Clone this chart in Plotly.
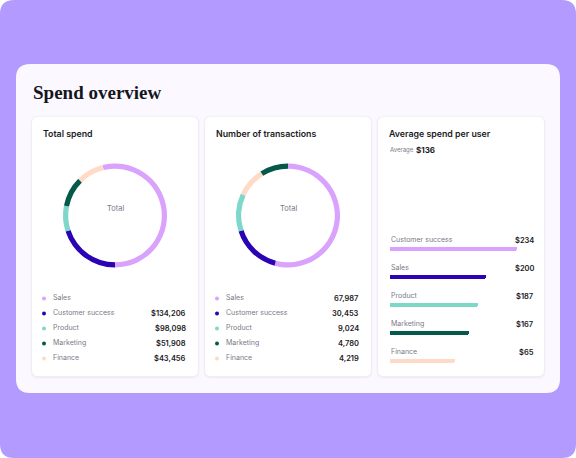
import plotly.graph_objects as go

# ---------------- data ----------------
categories = ["Sales", "Customer success", "Product", "Marketing", "Finance"]
cat_colors = ["#D9A2FC", "#2A03B4", "#7ED8CA", "#04594A", "#FFDAC6"]

spend_values = [None, 134206, 98098, 51908, 43456]          # Sales has no value shown
transactions = [67987, 30453, 9024, 4780, 4219]

# ring shares as drawn (degrees of the ring)
spend_ring_labels = ["Sales", "Customer success", "Product", "Marketing", "Finance"]
spend_ring_share = [194, 72, 29, 34, 31]
txn_ring_labels = ["Sales", "Customer success", "Product", "Finance", "Marketing"]
txn_ring_share = [195, 57, 43, 33, 32]

avg_categories = ["Customer success", "Sales", "Product", "Marketing", "Finance"]
avg_values = [234, 200, 187, 167, 65]
avg_bar_fill = [88, 67, 61, 55, 45]      # bar length as drawn, % of track
avg_bar_colors = ["#D9A2FC", "#2A03B4", "#7ED8CA", "#04594A", "#FFDAC6"]
overall_average = 136

# ---------------- layout helpers ----------------
W, H = 576, 458
color_of = dict(zip(categories, cat_colors))


def rrect(x0, y0, x1, y1, r, fill, line=None):
    p = (f"M{x0+r},{y0} L{x1-r},{y0} Q{x1},{y0} {x1},{y0+r} "
         f"L{x1},{y1-r} Q{x1},{y1} {x1-r},{y1} L{x0+r},{y1} "
         f"Q{x0},{y1} {x0},{y1-r} L{x0},{y0+r} Q{x0},{y0} {x0+r},{y0} Z")
    return dict(type="path", path=p, xref="x", yref="y", fillcolor=fill,
                line=dict(width=0 if line is None else 1, color=line or "rgba(0,0,0,0)"),
                layer="below")


def px(x):
    return x / W


def py(y):
    return 1 - y / H


shapes = []
shapes.append(rrect(0, 0, 576, 458, 14, "#B39AFF"))
shapes.append(rrect(16, 64, 560, 393, 14, "#FBF9FF"))
cards = [(32, 198), (205, 371), (378, 544)]
for (a, b) in cards:
    shapes.append(rrect(a - 2, 115.5, b + 2, 379, 8, "rgba(70,50,130,0.025)"))
    shapes.append(rrect(a - 1, 116.5, b + 1, 378, 7, "rgba(70,50,130,0.035)"))
    shapes.append(rrect(a, 117, b, 376, 6, "#FFFFFF"))

fig = go.Figure()

# donuts
donut_specs = [
    (spend_ring_labels, spend_ring_share, 115, 215.5, -14),
    (txn_ring_labels, txn_ring_share, 288, 215.5, 0),
]
for labels, share, cx, cy, rot in donut_specs:
    r = 52
    fig.add_trace(go.Pie(
        labels=labels, values=share, hole=0.9, sort=False, direction="clockwise",
        rotation=rot, textinfo="none", hoverinfo="label",
        marker=dict(colors=[color_of[l] for l in labels], line=dict(width=0)),
        domain=dict(x=[px(cx - r), px(cx + r)], y=[py(cy + r), py(cy - r)]),
        showlegend=False,
    ))

annotations = []
TXT = "#1B1B24"
GRAY = "#7A7A88"

annotations.append(dict(x=31, y=92, xref="x", yref="y", text="Spend overview",
                        showarrow=False, xanchor="left", yanchor="middle",
                        font=dict(family="Liberation Serif", size=19, color="#15151C", weight=700)))

titles = ["Total spend", "Number of transactions", "Average spend per user"]
for (a, b), t in zip(cards, titles):
    annotations.append(dict(x=a + 9, y=133, xref="x", yref="y", text=t, showarrow=False,
                            xanchor="left", yanchor="middle",
                            font=dict(family="Inter", size=8.8, color=TXT, weight=600)))

for cx in (115, 288):
    annotations.append(dict(x=cx, y=208, xref="x", yref="y", text="Total", showarrow=False,
                            xanchor="center", yanchor="middle",
                            font=dict(family="Inter", size=7.5, color=GRAY)))

# legends of the two donut cards
row_y = [297.5, 312.5, 327.5, 342.5, 357.5]
dot_x, dot_y, dot_c = [], [], []
for (a, b), vals, fmt in [(cards[0], spend_values, "${:,}"), (cards[1], transactions, "{:,}")]:
    for i, cat in enumerate(categories):
        dot_x.append(a + 12)
        dot_y.append(row_y[i] + 1)
        dot_c.append(color_of[cat])
        annotations.append(dict(x=a + 18.5, y=row_y[i], xref="x", yref="y", text=cat,
                                showarrow=False, xanchor="left", yanchor="middle",
                                font=dict(family="Inter", size=7, color=GRAY)))
        if vals[i] is not None:
            annotations.append(dict(x=b - 10.5, y=row_y[i] + 1, xref="x", yref="y",
                                    text=fmt.format(vals[i]), showarrow=False,
                                    xanchor="right", yanchor="middle",
                                    font=dict(family="Inter", size=7.5, color=TXT, weight=600)))

fig.add_trace(go.Scatter(x=dot_x, y=dot_y, mode="markers", xaxis="x", yaxis="y",
                         marker=dict(size=4, color=dot_c), hoverinfo="skip", showlegend=False))

# average card
annotations.append(dict(x=387.5, y=150, xref="x", yref="y", text="Average", showarrow=False,
                        xanchor="left", yanchor="middle",
                        font=dict(family="Inter", size=6, color=GRAY)))
annotations.append(dict(x=414, y=150, xref="x", yref="y", text=f"${overall_average}",
                        showarrow=False, xanchor="left", yanchor="middle",
                        font=dict(family="Inter", size=8, color=TXT, weight=700)))

bar_row_y = [239.5, 267.5, 295.5, 323.5, 351.5]
for i, cat in enumerate(avg_categories):
    annotations.append(dict(x=388.5, y=bar_row_y[i], xref="x", yref="y", text=cat,
                            showarrow=False, xanchor="left", yanchor="middle",
                            font=dict(family="Inter", size=7, color=GRAY)))
    annotations.append(dict(x=535.5, y=bar_row_y[i] + 1, xref="x", yref="y",
                            text=f"${avg_values[i]}", showarrow=False,
                            xanchor="right", yanchor="middle",
                            font=dict(family="Inter", size=7.5, color=TXT, weight=600)))

fig.add_trace(go.Bar(
    x=avg_bar_fill, y=avg_categories, orientation="h", xaxis="x2", yaxis="y2",
    width=0.14, marker=dict(color=avg_bar_colors, cornerradius="50%", line=dict(width=0)),
    hoverinfo="skip", showlegend=False,
))

fig.update_layout(
    width=W, height=H, margin=dict(l=0, r=0, t=0, b=0),
    paper_bgcolor="#FFFFFF", plot_bgcolor="rgba(0,0,0,0)",
    shapes=shapes, annotations=annotations,
    xaxis=dict(range=[0, W], domain=[0, 1], visible=False, fixedrange=True),
    yaxis=dict(range=[H, 0], domain=[0, 1], visible=False, fixedrange=True),
    xaxis2=dict(range=[0, 100], domain=[px(390), px(534)], visible=False, anchor="y2"),
    yaxis2=dict(type="category", categoryorder="array", categoryarray=avg_categories,
                range=[4.5, -0.5], domain=[py(375), py(235)], visible=False, anchor="x2"),
    bargap=0,
)

fig.write_html("out.html")
